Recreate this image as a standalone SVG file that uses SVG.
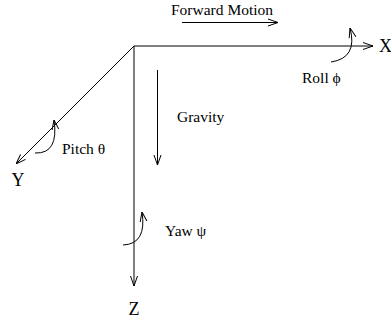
<svg xmlns="http://www.w3.org/2000/svg" width="391" height="321" viewBox="0 0 391 321">
<defs>
<marker id="ah" viewBox="0 0 10 10" refX="10" refY="5" markerWidth="10" markerHeight="10" markerUnits="userSpaceOnUse" orient="auto">
<path d="M0,1.5 L10,5 L0,8.5" fill="none" stroke="#000" stroke-width="1"/>
</marker>
</defs>
<style>
.l{stroke:#000;stroke-width:1;fill:none}
.t{font-family:"Liberation Serif","DejaVu Serif",serif;font-size:15.5px;fill:#000}
.b{font-family:"Liberation Serif","DejaVu Serif",serif;font-size:18px;fill:#000}
</style>
<rect width="391" height="321" fill="#fff"/>
<g id="connectors">
<line class="l" x1="134" y1="46" x2="373" y2="46" marker-end="url(#ah)"/>
<line class="l" x1="134" y1="46" x2="16" y2="164" marker-end="url(#ah)"/>
<line class="l" x1="134" y1="46" x2="134" y2="286" marker-end="url(#ah)"/>
<line class="l" x1="182" y1="22.5" x2="278" y2="22.5" marker-end="url(#ah)"/>
<line class="l" x1="157.5" y1="70" x2="157.5" y2="165" marker-end="url(#ah)"/>
<path class="l" d="M331,62 Q358,58 350,28" marker-end="url(#ah)"/>
<path class="l" d="M35,153 Q59,154 54,120" marker-end="url(#ah)"/>
<path class="l" d="M123,245 Q147,244 142,212" marker-end="url(#ah)"/>
</g>
<g id="labels">
<text class="t" x="171" y="15">Forward Motion</text>
<text class="b" x="379" y="52">X</text>
<text class="b" x="18" y="186" text-anchor="middle">Y</text>
<text class="b" x="134" y="315" text-anchor="middle">Z</text>
<text class="t" x="302" y="83">Roll ϕ</text>
<text class="t" x="177" y="122">Gravity</text>
<text class="t" x="62" y="154">Pitch θ</text>
<text class="t" x="165" y="236">Yaw ψ</text>
</g>
</svg>
